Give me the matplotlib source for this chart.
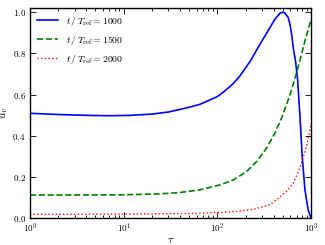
''' u_v against tau for three reference times '''
import math
import matplotlib
matplotlib.use('Agg')
import matplotlib.pyplot as plt
from matplotlib.ticker import FuncFormatter, LogLocator, MultipleLocator

plt.rcParams['mathtext.fontset'] = 'cm'
plt.rcParams['font.family'] = 'serif'
plt.rcParams['font.serif'] = ['DejaVu Serif']

# data
tau_1000 = [1, 2, 4, 7, 12, 20, 30, 45, 65, 100, 120, 147, 174, 223, 285, 322,
            364, 412, 466, 501, 526, 571, 596, 621, 646, 684, 719, 762, 805,
            861, 933, 1000]
u_1000 = [0.509, 0.503, 0.499, 0.497, 0.499, 0.505, 0.515, 0.533, 0.552, 0.59,
          0.617, 0.652, 0.69, 0.76, 0.844, 0.884, 0.925, 0.966, 0.995, 1.0,
          0.996, 0.974, 0.941, 0.893, 0.828, 0.76, 0.673, 0.494, 0.30,
          0.137, 0.039, 0.0]

tau_1500 = [1, 3, 10, 23, 40, 65, 107, 148, 205, 263, 336, 412, 485, 557, 621,
            731, 861, 1000]
u_1500 = [0.112, 0.112, 0.113, 0.117, 0.124, 0.137, 0.161, 0.185, 0.226, 0.275,
          0.34, 0.413, 0.486, 0.56, 0.624, 0.735, 0.86, 0.966]

tau_2000 = [1, 10, 50, 120, 174, 242, 363, 447, 550, 646, 762, 861, 933, 1000]
u_2000 = [0.018, 0.019, 0.022, 0.028, 0.034, 0.042, 0.065, 0.096, 0.13, 0.168,
          0.245, 0.32, 0.385, 0.454]

labels = [r'$t\,/\,T_{\rm ref} = 1000$', r'$t\,/\,T_{\rm ref} = 1500$',
          r'$t\,/\,T_{\rm ref} = 2000$']

fig = plt.figure(figsize=(3.25, 2.45), dpi=100)
ax = fig.add_axes([0.092, 0.110, 0.865, 0.857])

ax.plot(tau_1000, u_1000, color='blue', linestyle='-', linewidth=1.2, label=labels[0])
ax.plot(tau_1500, u_1500, color='green', linestyle='--', linewidth=1.2, label=labels[1])
ax.plot(tau_2000, u_2000, color='red', linestyle=':', linewidth=1.0, label=labels[2])

ax.set_xscale('log')
ax.set_xlim(1, 1000)
ax.set_ylim(0, 1.02)

ax.xaxis.set_major_locator(LogLocator(base=10))
ax.xaxis.set_minor_locator(LogLocator(base=10, subs=range(2, 10)))
ax.xaxis.set_major_formatter(FuncFormatter(lambda x, pos: r'$10^{%d}$' % round(math.log10(x))))
ax.yaxis.set_major_locator(MultipleLocator(0.2))
ax.yaxis.set_major_formatter(FuncFormatter(lambda y, pos: r'$%.1f$' % y))

ax.tick_params(which='both', direction='in', top=True, right=True, labelsize=6.5,
               width=0.6, pad=3)
ax.tick_params(which='major', length=4)
ax.tick_params(which='minor', length=2)
for sp in ax.spines.values():
    sp.set_linewidth(1.0)

ax.set_xlabel(r'$\tau$', fontsize=8, labelpad=0)
ax.set_ylabel(r'$u_v$', fontsize=8, labelpad=2)

ax.legend(loc='upper left', frameon=False, fontsize=7, handlelength=2.2,
          borderaxespad=0.3, labelspacing=0.6)

fig.savefig('out.png', dpi=100)
